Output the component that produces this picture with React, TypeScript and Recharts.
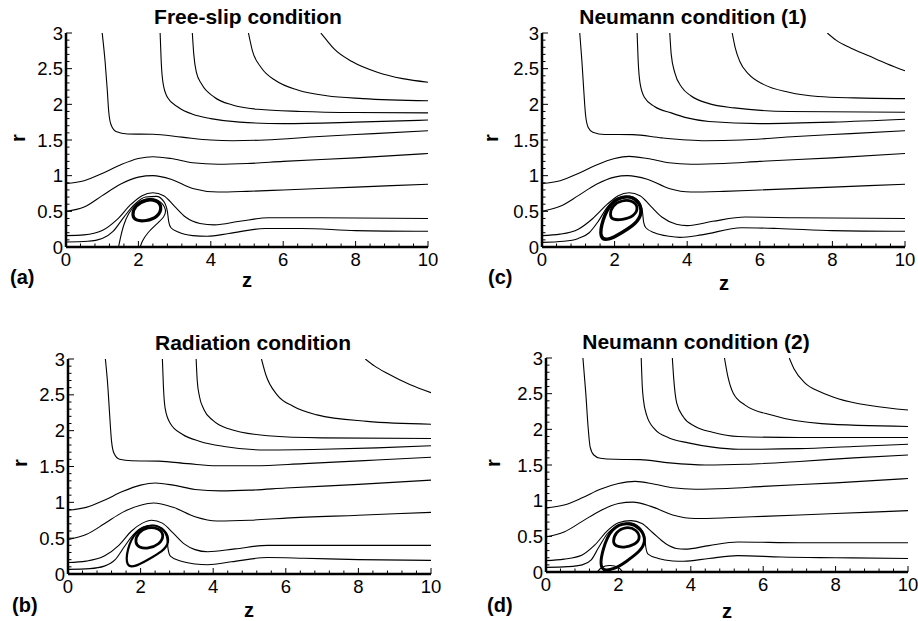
import { LineChart, Line, XAxis, YAxis } from 'recharts'

type Pt = [number, number]

// axis ticks
const zMajor = [0, 2, 4, 6, 8, 10]
const zMinor = [0.4, 0.8, 1.2, 1.6, 2.4, 2.8, 3.2, 3.6, 4.4, 4.8, 5.2, 5.6, 6.4, 6.8, 7.2, 7.6, 8.4, 8.8, 9.2, 9.6]
const rMajor = [0, 0.5, 1, 1.5, 2, 2.5, 3]
const rMinor = [0.1, 0.2, 0.3, 0.4, 0.6, 0.7, 0.8, 0.9, 1.1, 1.2, 1.3, 1.4, 1.6, 1.7, 1.8, 1.9, 2.1, 2.2, 2.3, 2.4, 2.6, 2.7, 2.8, 2.9]

// (a) free-slip
const aL1: Pt[] = [[1.0, 3], [1.08, 2.6], [1.14, 2.2], [1.18, 1.9], [1.24, 1.72], [1.38, 1.62], [1.7, 1.585], [2.4, 1.58], [3.2, 1.54], [4.0, 1.5], [4.6, 1.49], [5.5, 1.5], [7, 1.55], [8.5, 1.59], [10, 1.63]]
const aL2: Pt[] = [[2.6, 3], [2.63, 2.6], [2.68, 2.3], [2.8, 2.1], [3.1, 1.96], [3.5, 1.86], [4.0, 1.8], [4.8, 1.75], [6, 1.73], [8, 1.75], [10, 1.78]]
const aL3: Pt[] = [[3.49, 3], [3.53, 2.7], [3.6, 2.45], [3.75, 2.28], [4.1, 2.1], [4.6, 1.99], [5.3, 1.93], [6.5, 1.9], [8, 1.885], [10, 1.88]]
const aL4: Pt[] = [[5.04, 3], [5.15, 2.75], [5.4, 2.51], [5.8, 2.33], [6.4, 2.2], [7.2, 2.12], [8.2, 2.08], [10, 2.05]]
const aL5: Pt[] = [[7.04, 3], [7.2, 2.9], [7.4, 2.78], [7.9, 2.6], [8.6, 2.45], [9.3, 2.36], [10, 2.31]]
const aL6: Pt[] = [[0, 0.89], [0.5, 0.93], [1, 1.03], [1.5, 1.15], [2, 1.24], [2.4, 1.265], [2.9, 1.24], [3.5, 1.18], [4.2, 1.16], [5, 1.17], [6, 1.2], [8, 1.25], [10, 1.31]]
const aL7: Pt[] = [[0, 0.5], [0.5, 0.56], [1, 0.72], [1.5, 0.88], [2, 0.98], [2.4, 1.0], [2.9, 0.95], [3.5, 0.82], [4.2, 0.77], [5, 0.78], [6, 0.8], [8, 0.84], [10, 0.88]]
const aL8: Pt[] = [[0, 0.16], [0.5, 0.17], [1, 0.23], [1.4, 0.38], [1.8, 0.6], [2.1, 0.72], [2.4, 0.76], [2.7, 0.72], [3.0, 0.57], [3.3, 0.42], [3.7, 0.33], [4.1, 0.31], [4.8, 0.36], [5.6, 0.41], [7, 0.41], [10, 0.4]]
const aL9: Pt[] = [[0, 0.07], [0.6, 0.08], [1.0, 0.12], [1.3, 0.22], [1.6, 0.42], [1.9, 0.6], [2.2, 0.7], [2.5, 0.71], [2.7, 0.64], [2.8, 0.5], [2.84, 0.35], [2.9, 0.27], [3.1, 0.21], [3.5, 0.16], [3.9, 0.15], [4.5, 0.19], [5.5, 0.26], [6.5, 0.26], [8, 0.23], [10, 0.22]]
const aWrap: Pt[] = [[1.45, 0], [1.5, 0.12], [1.58, 0.3], [1.72, 0.47], [1.95, 0.63], [2.3, 0.7], [2.62, 0.65], [2.78, 0.52], [2.72, 0.42], [2.5, 0.32], [2.25, 0.2], [2.1, 0.08], [2.05, 0]]
const aCore: Pt[] = [[1.82, 0.44], [1.9, 0.58], [2.2, 0.665], [2.5, 0.66], [2.66, 0.57], [2.55, 0.42], [2.2, 0.36], [1.92, 0.37]]

// (b) radiation
const bL1: Pt[] = [[1.03, 3], [1.1, 2.6], [1.15, 2.2], [1.2, 1.85], [1.27, 1.68], [1.42, 1.6], [1.75, 1.58], [2.5, 1.575], [3.3, 1.54], [4.1, 1.51], [5, 1.51], [6.5, 1.54], [8.5, 1.59], [10, 1.63]]
const bL2: Pt[] = [[2.6, 3], [2.63, 2.6], [2.68, 2.3], [2.82, 2.1], [3.15, 1.95], [3.64, 1.85], [4.3, 1.78], [5.48, 1.73], [7, 1.74], [8.5, 1.76], [10, 1.79]]
const bL3: Pt[] = [[3.53, 3], [3.56, 2.7], [3.62, 2.48], [3.74, 2.3], [4.0, 2.14], [4.4, 2.03], [5.5, 1.93], [7, 1.9], [10, 1.89]]
const bL4: Pt[] = [[5.33, 3], [5.45, 2.78], [5.76, 2.5], [6.2, 2.34], [6.86, 2.22], [8.24, 2.13], [10, 2.09]]
const bL5: Pt[] = [[8.19, 3], [8.45, 2.9], [8.79, 2.8], [9.43, 2.64], [10, 2.53]]
const bL6: Pt[] = [[0, 0.89], [0.5, 0.93], [1, 1.03], [1.5, 1.15], [2, 1.24], [2.4, 1.27], [2.9, 1.24], [3.5, 1.18], [4.2, 1.16], [5, 1.17], [6, 1.2], [8, 1.25], [10, 1.31]]
const bL7: Pt[] = [[0, 0.48], [0.5, 0.55], [1, 0.7], [1.5, 0.86], [2, 0.96], [2.36, 0.99], [2.9, 0.93], [3.5, 0.8], [4.1, 0.74], [5, 0.75], [6, 0.78], [8, 0.82], [10, 0.86]]
const bL8: Pt[] = [[0, 0.16], [0.5, 0.18], [1, 0.25], [1.4, 0.4], [1.75, 0.6], [2.05, 0.71], [2.3, 0.75], [2.6, 0.71], [2.9, 0.57], [3.2, 0.42], [3.5, 0.34], [3.85, 0.31], [4.6, 0.35], [5.5, 0.4], [7, 0.4], [10, 0.4]]
const bL9: Pt[] = [[0, 0.065], [0.6, 0.075], [1.0, 0.11], [1.3, 0.2], [1.55, 0.38], [1.8, 0.55], [2.05, 0.65], [2.35, 0.68], [2.6, 0.62], [2.72, 0.5], [2.76, 0.34], [2.82, 0.25], [3.1, 0.18], [3.5, 0.14], [3.85, 0.13], [4.5, 0.17], [5.5, 0.23], [6.5, 0.22], [8, 0.2], [10, 0.19]]
const bOuter: Pt[] = [[1.6, 0.1], [1.62, 0.34], [1.85, 0.6], [2.3, 0.71], [2.7, 0.62], [2.8, 0.44], [2.62, 0.32], [2.2, 0.2], [1.85, 0.1]]
const bCore: Pt[] = [[1.84, 0.44], [1.92, 0.58], [2.2, 0.66], [2.5, 0.64], [2.66, 0.54], [2.52, 0.41], [2.2, 0.35], [1.95, 0.37]]

// (c) Neumann (1)
const cL1: Pt[] = [[1.04, 3], [1.1, 2.6], [1.15, 2.2], [1.2, 1.85], [1.27, 1.68], [1.4, 1.61], [1.73, 1.578], [2.5, 1.575], [3.3, 1.53], [4.0, 1.5], [4.5, 1.49], [5.5, 1.5], [7, 1.55], [8.5, 1.59], [10, 1.63]]
const cL2: Pt[] = [[2.62, 3], [2.65, 2.6], [2.7, 2.3], [2.82, 2.1], [3.1, 1.97], [3.56, 1.88], [4.0, 1.81], [4.6, 1.76], [6, 1.73], [8, 1.75], [10, 1.79]]
const cL3: Pt[] = [[3.52, 3], [3.56, 2.7], [3.66, 2.44], [3.85, 2.24], [4.1, 2.12], [4.6, 2.01], [5.3, 1.95], [6.8, 1.9], [10, 1.89]]
const cL4: Pt[] = [[5.24, 3], [5.32, 2.8], [5.45, 2.6], [5.7, 2.42], [6.1, 2.28], [6.8, 2.17], [7.6, 2.11], [8.6, 2.09], [10, 2.08]]
const cL5: Pt[] = [[7.86, 3], [8.1, 2.9], [8.5, 2.79], [9.0, 2.68], [9.5, 2.57], [10, 2.47]]
const cL6: Pt[] = [[0, 0.89], [0.5, 0.93], [1, 1.03], [1.5, 1.15], [2, 1.24], [2.4, 1.27], [2.9, 1.24], [3.5, 1.18], [4.1, 1.16], [5, 1.17], [6, 1.2], [8, 1.25], [10, 1.31]]
const cL7: Pt[] = [[0, 0.5], [0.5, 0.57], [1, 0.72], [1.5, 0.88], [2, 0.98], [2.35, 1.0], [2.9, 0.95], [3.5, 0.82], [4.1, 0.77], [5, 0.78], [6, 0.8], [8, 0.84], [10, 0.88]]
const cL8: Pt[] = [[0, 0.16], [0.5, 0.18], [1, 0.25], [1.4, 0.4], [1.8, 0.6], [2.1, 0.72], [2.4, 0.76], [2.7, 0.72], [3.0, 0.57], [3.3, 0.42], [3.7, 0.32], [4.0, 0.3], [4.7, 0.36], [5.6, 0.42], [7, 0.41], [10, 0.4]]
const cL9: Pt[] = [[0, 0.065], [0.6, 0.08], [1.0, 0.12], [1.3, 0.2], [1.55, 0.36], [1.8, 0.56], [2.1, 0.69], [2.4, 0.71], [2.65, 0.65], [2.76, 0.52], [2.8, 0.35], [2.86, 0.27], [3.1, 0.2], [3.5, 0.15], [3.8, 0.135], [4.4, 0.17], [5.5, 0.27], [6.5, 0.26], [8, 0.23], [10, 0.22]]
const cOuter: Pt[] = [[1.58, 0.12], [1.66, 0.38], [1.9, 0.63], [2.3, 0.73], [2.66, 0.66], [2.77, 0.48], [2.6, 0.33], [2.2, 0.2], [1.82, 0.09]]
const cCore: Pt[] = [[1.86, 0.44], [1.93, 0.58], [2.2, 0.66], [2.5, 0.65], [2.66, 0.56], [2.55, 0.43], [2.2, 0.38], [1.95, 0.38]]

// (d) Neumann (2)
const dL1: Pt[] = [[1.02, 3], [1.1, 2.5], [1.16, 2.05], [1.22, 1.75], [1.32, 1.64], [1.5, 1.595], [1.9, 1.58], [2.6, 1.575], [3.4, 1.53], [4.4, 1.5], [5.5, 1.51], [7, 1.55], [8.5, 1.6], [10, 1.64]]
const dL2: Pt[] = [[2.63, 3], [2.66, 2.6], [2.69, 2.42], [2.78, 2.2], [3.01, 2.0], [3.4, 1.88], [3.93, 1.81], [4.6, 1.75], [5.31, 1.72], [7, 1.73], [8.5, 1.76], [10, 1.79]]
const dL3: Pt[] = [[3.49, 3], [3.53, 2.7], [3.61, 2.37], [3.8, 2.17], [4.12, 2.04], [4.6, 1.96], [5.31, 1.9], [7, 1.885], [10, 1.885]]
const dL4: Pt[] = [[4.93, 3], [5.02, 2.75], [5.17, 2.51], [5.5, 2.34], [6.23, 2.2], [7.61, 2.08], [10, 2.04]]
const dL5: Pt[] = [[6.72, 3], [6.85, 2.85], [7.15, 2.65], [7.6, 2.52], [8.07, 2.43], [9, 2.33], [10, 2.27]]
const dL6: Pt[] = [[0, 0.9], [0.5, 0.94], [1, 1.04], [1.5, 1.16], [2, 1.24], [2.46, 1.27], [3, 1.23], [3.5, 1.18], [4.12, 1.16], [5, 1.17], [6, 1.2], [8, 1.25], [10, 1.31]]
const dL7: Pt[] = [[0, 0.49], [0.5, 0.56], [1, 0.71], [1.5, 0.86], [2, 0.96], [2.4, 0.98], [2.9, 0.92], [3.5, 0.8], [4.12, 0.75], [5, 0.76], [6, 0.78], [8, 0.82], [10, 0.86]]
const dL8: Pt[] = [[0, 0.16], [0.5, 0.18], [1, 0.24], [1.35, 0.38], [1.7, 0.58], [2.0, 0.69], [2.35, 0.72], [2.65, 0.68], [2.95, 0.55], [3.3, 0.4], [3.6, 0.33], [3.84, 0.32], [4.5, 0.37], [5.3, 0.42], [7, 0.41], [10, 0.41]]
const dL9: Pt[] = [[0, 0.065], [0.6, 0.075], [1.0, 0.1], [1.25, 0.17], [1.45, 0.34], [1.7, 0.54], [2.0, 0.65], [2.3, 0.69], [2.58, 0.63], [2.72, 0.5], [2.76, 0.34], [2.82, 0.25], [3.1, 0.19], [3.5, 0.155], [3.8, 0.15], [4.5, 0.19], [5.3, 0.23], [6.5, 0.21], [8, 0.2], [10, 0.19]]
const dOuter: Pt[] = [[1.46, 0.0], [1.56, 0.32], [1.8, 0.62], [2.25, 0.71], [2.66, 0.6], [2.76, 0.42], [2.6, 0.29], [2.2, 0.14], [1.9, 0.04]]
const dCore: Pt[] = [[1.84, 0.42], [1.92, 0.56], [2.2, 0.64], [2.5, 0.6], [2.62, 0.47], [2.45, 0.38], [2.15, 0.34], [1.92, 0.36]]
const dFoot: Pt[] = [[1.42, 0], [1.52, 0.07], [1.75, 0.1], [2.0, 0.08], [2.12, 0]]

interface Stream { pts: Pt[]; curve: string; width: number }

const thin = (pts: Pt[]): Stream => ({ pts, curve: 'monotone', width: 1.1 })
const wrap = (pts: Pt[]): Stream => ({ pts, curve: 'basis', width: 1.1 })
const loop = (pts: Pt[], width: number): Stream => ({ pts, curve: 'basisClosed', width })

const panels = [
  {
    id: 'a', title: 'Free-slip condition', plot: { x: 66, y: 33, w: 362, h: 214 },
    streams: [thin(aL1), thin(aL2), thin(aL3), thin(aL4), thin(aL5), thin(aL6), thin(aL7), thin(aL8), thin(aL9), wrap(aWrap), loop(aCore, 3.2)],
  },
  {
    id: 'b', title: 'Radiation condition', plot: { x: 68, y: 359, w: 363, h: 215 },
    streams: [thin(bL1), thin(bL2), thin(bL3), thin(bL4), thin(bL5), thin(bL6), thin(bL7), thin(bL8), thin(bL9), loop(bOuter, 2.2), loop(bCore, 2.8)],
  },
  {
    id: 'c', title: 'Neumann condition (1)', plot: { x: 542, y: 33, w: 363, h: 214 },
    streams: [thin(cL1), thin(cL2), thin(cL3), thin(cL4), thin(cL5), thin(cL6), thin(cL7), thin(cL8), thin(cL9), loop(cOuter, 3.4), loop(cCore, 2.8)],
  },
  {
    id: 'd', title: 'Neumann condition (2)', plot: { x: 546, y: 358, w: 362, h: 214 },
    streams: [thin(dL1), thin(dL2), thin(dL3), thin(dL4), thin(dL5), thin(dL6), thin(dL7), thin(dL8), thin(dL9), wrap(dFoot), loop(dOuter, 3), loop(dCore, 2.8)],
  },
]

// overlay text: titles, panel letters, axis names (baseline positions)
const titlePos: Record<string, [number, number]> = { a: [248, 24], b: [253, 350], c: [693, 24], d: [696, 349] }
const letterPos: Record<string, [number, number]> = { a: [10, 284], b: [12, 612], c: [488, 284], d: [487, 612] }
const zPos: Record<string, [number, number]> = { a: [247, 287], b: [249, 617], c: [724, 290], d: [727, 618] }
const rPos: Record<string, [number, number]> = { a: [25, 138], b: [27, 463], c: [498, 138], d: [500, 463] }

const FONT = '"Liberation Sans", Arial, Helvetica, sans-serif'

const XTick = (props: any) => {
  const { x, y, payload } = props
  const major = zMajor.includes(payload.value)
  return (
    <g>
      <line x1={x} y1={y} x2={x} y2={y - (major ? 6 : 3.5)} stroke="#000" strokeWidth={1} />
      {major && (
        <text x={x} y={y + 19} textAnchor="middle" fontSize={18.5} fontFamily={FONT} fill="#000">
          {payload.value}
        </text>
      )}
    </g>
  )
}

const YTick = (props: any) => {
  const { x, y, payload } = props
  const major = rMajor.includes(payload.value)
  return (
    <g>
      <line x1={x} y1={y} x2={x + (major ? 6 : 3.5)} y2={y} stroke="#000" strokeWidth={1} />
      {major && (
        <text x={x - 3} y={y + 6.5} textAnchor="end" fontSize={18.5} fontFamily={FONT} fill="#000">
          {payload.value}
        </text>
      )}
    </g>
  )
}

const Y_W = 40
const X_H = 30

function Panel({ plot, streams }: { plot: { x: number; y: number; w: number; h: number }; streams: Stream[] }) {
  const margin = { top: 10, right: 20, left: 0, bottom: 0 }
  return (
    <div style={{ position: 'absolute', left: plot.x - Y_W, top: plot.y - margin.top }}>
      <LineChart width={plot.w + Y_W + margin.right} height={plot.h + margin.top + X_H} margin={margin}>
        <XAxis
          dataKey="z" type="number" domain={[0, 10]} allowDataOverflow ticks={[...zMajor, ...zMinor]} interval={0}
          height={X_H} tickSize={0} tickMargin={0} tickLine={false} tick={<XTick />}
          axisLine={{ stroke: '#000', strokeWidth: 2.5 }}
        />
        <YAxis
          dataKey="r" type="number" domain={[0, 3]} allowDataOverflow ticks={[...rMajor, ...rMinor]} interval={0}
          width={Y_W} tickSize={0} tickMargin={0} tickLine={false} tick={<YTick />}
          axisLine={{ stroke: '#000', strokeWidth: 2.5 }}
        />
        {streams.map((s, i) => (
          <Line
            key={i}
            data={s.pts.map(([z, r]) => ({ z, r }))}
            dataKey="r"
            type={s.curve as any}
            stroke="#000"
            strokeWidth={s.width}
            dot={false}
            activeDot={false}
            legendType="none"
            isAnimationActive={false}
          />
        ))}
      </LineChart>
    </div>
  )
}

export default function App() {
  return (
    <div style={{ position: 'absolute', left: 0, top: 0, width: 918, height: 621, background: '#fff', fontFamily: FONT }}>
      {panels.map((p) => (
        <Panel key={p.id} plot={p.plot} streams={p.streams} />
      ))}
      <svg width={918} height={621} style={{ position: 'absolute', left: 0, top: 0, pointerEvents: 'none' }}>
        {panels.map((p) => (
          <g key={p.id} fontFamily={FONT} fontWeight="bold" fill="#000">
            <text x={titlePos[p.id][0]} y={titlePos[p.id][1]} textAnchor="middle" fontSize={21}>{p.title}</text>
            <text x={letterPos[p.id][0]} y={letterPos[p.id][1]} fontSize={20}>({p.id})</text>
            <text x={zPos[p.id][0]} y={zPos[p.id][1]} textAnchor="middle" fontSize={20}>z</text>
            <text
              x={rPos[p.id][0]} y={rPos[p.id][1]} textAnchor="middle" fontSize={20}
              transform={`rotate(-90 ${rPos[p.id][0]} ${rPos[p.id][1]})`}
            >
              r
            </text>
          </g>
        ))}
      </svg>
    </div>
  )
}
